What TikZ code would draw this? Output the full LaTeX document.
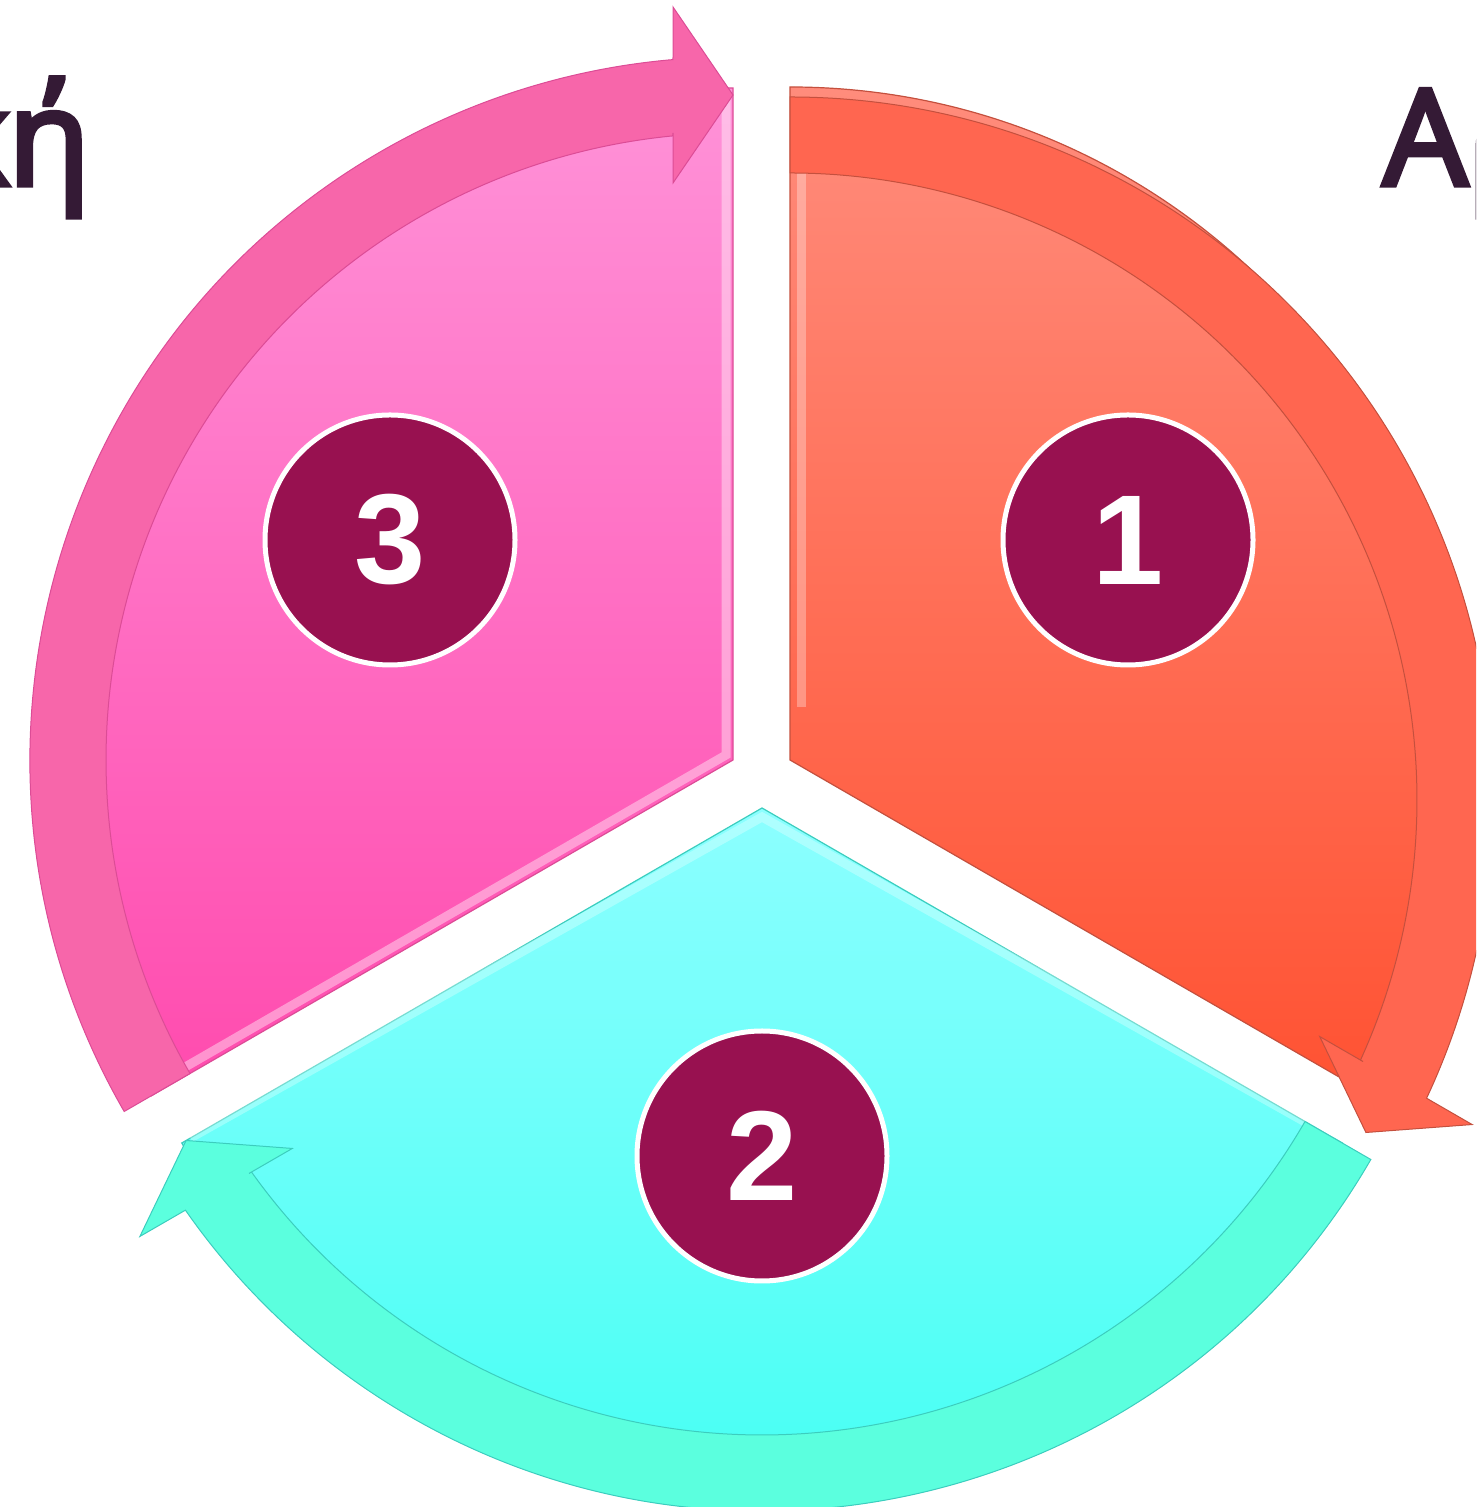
\documentclass[tikz,border=0pt]{standalone}
\usepackage{fontspec}
\setmainfont{Open Sans}
\newfontfamily\numfont{Liberation Sans}
\newfontfamily\titlefont[FakeBold=4]{Open Sans}
\usetikzlibrary{calc}
\definecolor{orangeTop}{HTML}{FF8C7C}
\definecolor{orangeBot}{HTML}{FF5232}
\definecolor{orangeBand}{HTML}{FF6650}
\definecolor{orangeEdge}{HTML}{C4503E}
\definecolor{pinkTop}{HTML}{FF92D8}
\definecolor{pinkBot}{HTML}{FF4BAE}
\definecolor{pinkBand}{HTML}{F766AA}
\definecolor{pinkEdge}{HTML}{DC4C96}
\definecolor{tealTop}{HTML}{8CFFFF}
\definecolor{tealBot}{HTML}{3EFFF2}
\definecolor{tealBand}{HTML}{5BFFDE}
\definecolor{tealEdge}{HTML}{3CCDBE}
\definecolor{plum}{HTML}{981150}
\definecolor{titleInk}{HTML}{341A35}
% #1,#2 centre; #3 tail angle; #4 tip angle; #5 style
\newcommand{\ringarrow}[5]{%
  \pgfmathsetmacro{\tipA}{#4}%
  \pgfmathsetmacro{\outA}{#4+4.9}%
  \pgfmathsetmacro{\inA}{#4+5.5}%
  \pgfmathsetmacro{\tanA}{#4+90}%
  \begin{scope}[shift={(#1,#2)}]
  \path[#5] (#3:703) arc[start angle=#3, end angle=\outA, radius=703]
    -- ($(\tipA:703)+(\tanA:60)$) -- ($(\tipA:753)+(\tanA:60)$)
    -- (\tipA:665)
    -- ($(\tipA:577)+(\tanA:60)$) -- ($(\tipA:627)+(\tanA:60)$)
    -- (\inA:627) arc[start angle=\inA, end angle=#3, radius=627] -- cycle;
  \end{scope}}
\tikzset{
  numcircle/.style={circle, fill=plum, draw=white, line width=5pt, minimum size=250pt,
    inner sep=0pt, text=white, font=\numfont\bfseries\fontsize{128}{128}\selectfont},
  titletext/.style={text=titleInk, inner sep=0pt, font=\titlefont\fontsize{133}{133}\selectfont},
  bevel/.style={white, opacity=0.3, line width=9pt}
}
\begin{document}
\begin{tikzpicture}[x=1pt,y=1pt]
\useasboundingbox (0,0) rectangle (1476,1507);
\clip (0,0) rectangle (1476,1507);
% wedges
\path[draw=orangeEdge, line width=1.2pt, top color=orangeTop, bottom color=orangeBot, shift={(790,747)}]
  (0,0) -- (90:673) arc[start angle=90, end angle=-30, radius=673] -- cycle;
\path[draw=tealEdge, line width=1.2pt, top color=tealTop, bottom color=tealBot, shift={(762,699)}]
  (0,0) -- (210:670) arc[start angle=210, end angle=330, radius=670] -- cycle;
\path[draw=pinkEdge, line width=1.2pt, top color=pinkTop, bottom color=pinkBot, shift={(733,747)}]
  (0,0) -- (90:672) arc[start angle=90, end angle=210, radius=672] -- cycle;
% bevel highlights
\draw[bevel] (801,1340) -- (801,800);
\draw[bevel, opacity=0.4] (726,1410) -- (726,752) -- (180,437);
\draw[bevel, shift={(762,699)}] (210:660) -- (0,-9) -- (330:660);
% arrow bands
\ringarrow{790}{707}{90}{-30}{fill=orangeBand, draw=orangeEdge, line width=1pt}
\ringarrow{762}{699}{330}{210}{fill=tealBand, draw=tealEdge, line width=1pt}
\ringarrow{733}{747}{210}{90}{fill=pinkBand, draw=pinkEdge, line width=1pt}
% numbered circles
\node[numcircle] (n1) at (1128,967) {1};
\node[numcircle] (n2) at (762,351) {2};
\node[numcircle] (n3) at (390,967) {3};
% titles, cut off at the picture's edges as in the original
\node[titletext, anchor=base east] (tleft) at (90,1322) {κή};
\node[titletext, anchor=base west] (tright) at (1383,1322) {Αρ};
\end{tikzpicture}
\end{document}
